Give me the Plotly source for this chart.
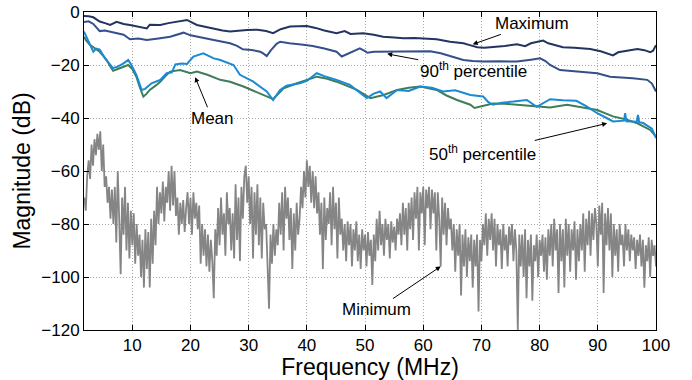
import numpy as np
import plotly.graph_objects as go

# ---------------- data ----------------
max_f = [1.7, 2.5, 3.3, 4.4, 5.3, 6.2, 7.3, 8.5, 9.6, 11.0, 12.5, 13.0, 14.8, 16.2, 17.6, 19.4,
         21.1, 22.5, 24.0, 25.5, 26.8, 28.3, 29.7, 31.5, 33.0, 34.2, 35.5, 37.1, 38.5, 40.0,
         41.5, 43.0, 45.1, 46.5, 47.5, 49.7, 51.5, 53.1, 55.0, 56.6, 58.5, 60.5, 62.3, 64.6,
         66.9, 68.0, 69.3, 70.5, 72.0, 74.0, 76.1, 77.5, 78.5, 80.0, 80.6, 81.5, 82.5, 84.0,
         86.0, 88.7, 90.5, 92.0, 92.6, 93.5, 95.0, 96.8, 98.0, 99.0, 99.5, 99.8, 100.0]
max_db = [-1.5, -1.6, -2.0, -3.6, -4.2, -4.9, -3.7, -4.5, -4.9, -5.5, -6.2, -4.8, -4.9, -4.2, -3.6, -3.0,
          -4.9, -5.6, -6.5, -7.0, -7.4, -7.0, -6.8, -6.7, -7.2, -8.0, -6.5, -5.5, -5.3, -5.3,
          -6.0, -7.0, -8.0, -7.2, -8.3, -8.0, -8.6, -9.3, -9.6, -9.9, -9.8, -10.0, -10.3, -11.2,
          -11.8, -12.5, -13.3, -13.5, -13.3, -12.8, -12.2, -12.9, -11.8, -11.0, -10.8, -11.8, -12.5, -13.3,
          -13.5, -14.0, -14.8, -16.0, -16.4, -15.2, -14.6, -14.0, -14.4, -15.2, -14.6, -13.0, -12.5]

p90_f = [1.7, 2.5, 3.3, 4.4, 5.3, 6.2, 7.3, 8.5, 9.6, 11.0, 12.5, 13.5, 14.5, 16.5, 18.0, 18.8,
         20.0, 21.1, 22.5, 24.0, 25.5, 26.8, 28.0, 29.0, 30.5, 32.0, 32.5, 33.1, 33.8, 34.8,
         35.4, 37.0, 39.4, 41.0, 43.0, 45.1, 46.0, 47.0, 48.3, 49.1, 50.0, 50.4, 51.5, 53.1,
         55.5, 58.9, 61.2, 63.0, 65.0, 66.9, 68.5, 70.3, 73.0, 76.1, 78.5, 80.1, 81.0, 81.8,
         83.5, 86.0, 88.0, 89.9, 92.1, 94.0, 96.0, 98.5, 99.3, 100.0]
p90_db = [-3.8, -3.5, -4.5, -7.2, -7.0, -7.4, -8.0, -8.6, -10.3, -10.0, -10.6, -10.4, -10.0, -9.3, -8.2, -7.8,
          -8.8, -9.3, -10.2, -10.6, -11.2, -11.8, -12.8, -14.1, -14.3, -15.0, -15.6, -16.6, -14.5, -12.0,
          -11.2, -11.8, -12.4, -12.8, -13.8, -15.0, -16.8, -15.8, -14.6, -13.7, -14.8, -15.4, -15.0, -15.0,
          -15.0, -15.0, -14.8, -15.6, -16.8, -18.1, -18.5, -18.7, -18.6, -18.7, -18.0, -17.5, -18.5, -20.0,
          -21.9, -22.3, -22.6, -23.1, -24.4, -24.6, -25.0, -25.6, -27.0, -30.0]

mean_f = [1.7, 2.0, 2.7, 3.5, 4.4, 5.0, 5.6, 6.2, 6.7, 7.5, 8.5, 9.3, 10.0, 10.7, 11.3, 11.9,
          12.4, 13.0, 14.0, 14.8, 15.7, 16.5, 18.2, 20.0, 21.1, 22.9, 25.1, 26.8, 29.1, 32.0,
          34.2, 34.8, 36.0, 38.3, 40.0, 41.7, 43.5, 45.1, 48.6, 50.9, 53.2, 55.5, 57.5, 59.5,
          62.3, 64.0, 65.8, 68.1, 68.8, 70.5, 72.0, 74.0, 76.1, 79.0, 81.8, 84.7, 87.0, 89.9,
          91.0, 92.6, 94.7, 96.8, 99.0, 100.0]
mean_db = [-9.3, -10.5, -12.4, -13.5, -15.0, -16.5, -18.1, -20.5, -22.2, -21.5, -20.6, -20.0, -21.5, -24.4, -28.5, -31.9,
           -31.0, -29.4, -27.8, -26.3, -24.2, -22.5, -21.9, -23.1, -22.5, -23.7, -25.6, -26.3, -28.1, -30.7,
           -32.9, -31.5, -28.8, -26.9, -25.5, -24.4, -25.2, -26.3, -29.4, -32.5, -31.3, -29.4, -28.6, -28.1,
           -29.4, -31.5, -33.2, -35.0, -36.2, -35.3, -34.5, -34.6, -34.9, -35.5, -36.0, -35.0, -36.0, -37.0,
           -38.0, -39.4, -40.5, -42.0, -44.5, -47.0]

p50_f = [1.7, 2.4, 3.3, 3.8, 4.4, 5.3, 6.7, 7.5, 8.5, 9.3, 9.8, 10.7, 11.6, 12.2, 13.3, 14.8,
         15.9, 16.8, 17.4, 18.5, 19.4, 20.5, 22.2, 24.0, 25.0, 27.4, 28.5, 30.8, 33.1, 34.2,
         35.4, 36.5, 38.8, 40.0, 41.7, 43.0, 45.1, 47.4, 50.3, 51.5, 52.6, 53.7, 55.5, 57.5,
         59.5, 61.5, 63.4, 65.5, 68.1, 70.3, 71.2, 72.0, 73.5, 75.5, 77.8, 79.5, 81.8, 84.0,
         86.3, 88.0, 89.9, 91.5, 92.6, 94.5, 94.7, 94.9, 96.7, 96.9, 97.1, 97.8, 99.3, 100.0]
p50_db = [-7.4, -10.6, -15.0, -13.8, -14.2, -17.5, -21.2, -20.6, -19.4, -18.1, -19.8, -23.7, -29.4, -29.0, -26.9, -25.6,
          -23.1, -22.8, -19.8, -19.4, -19.6, -16.8, -15.6, -17.5, -18.0, -20.0, -23.7, -26.3, -30.0, -33.2,
          -29.4, -27.8, -26.9, -26.0, -23.1, -24.2, -25.6, -27.5, -32.5, -30.8, -30.0, -32.5, -29.4, -29.8,
          -28.1, -28.6, -30.0, -29.5, -31.3, -31.9, -34.0, -35.0, -34.2, -33.8, -33.2, -35.8, -32.9, -33.3,
          -33.5, -35.5, -38.2, -40.0, -41.3, -41.0, -38.2, -41.2, -41.4, -38.8, -41.6, -41.9, -44.0, -47.6]

# Minimum: sampled every 0.25 MHz from 1.75 to 100 MHz
min_f = np.arange(1.75, 100.001, 0.25)
min_db = [
    -70, -75, -62, -56, -63, -50, -58, -48, -54, -46, -52, -45, -60, -50, -66, -62, -72, -66, -78, -67,
    -80, -66, -87, -60, -78, -99, -70, -84, -66, -90, -72, -93, -75, -88, -76, -95, -80, -92, -84, -100,
    -86, -104, -82, -97, -83, -104, -78, -95, -75, -88, -66, -80, -68, -76, -64, -79, -66, -72, -60, -75,
    -58, -73, -60, -77, -70, -84, -72, -80, -71, -83, -74, -68, -80, -70, -84, -68, -78, -72, -82, -73,
    -95, -80, -92, -82, -96, -84, -98, -86, -94, -108, -82, -92, -74, -88, -70, -84, -76, -92, -68, -80,
    -74, -90, -76, -93, -65, -86, -70, -94, -66, -78, -62, -58, -72, -62, -80, -66, -93, -68, -84, -65,
    -88, -70, -93, -72, -82, -80, -96, -112, -84, -95, -80, -92, -82, -88, -72, -84, -68, -90, -66, -78,
    -70, -86, -74, -97, -76, -90, -72, -84, -78, -66, -74, -60, -70, -56, -66, -58, -72, -60, -74, -62,
    -76, -68, -84, -72, -97, -70, -86, -74, -80, -68, -88, -66, -82, -72, -93, -70, -84, -78, -90, -80,
    -94, -79, -88, -80, -96, -82, -90, -79, -94, -84, -97, -82, -90, -84, -96, -83, -92, -86, -103, -84,
    -94, -78, -90, -75, -88, -80, -92, -78, -86, -80, -93, -79, -87, -81, -90, -78, -84, -76, -88, -72,
    -84, -74, -90, -72, -82, -70, -86, -68, -78, -66, -90, -68, -76, -66, -88, -67, -74, -66, -82, -67,
    -76, -68, -90, -68, -78, -96, -70, -84, -72, -88, -74, -82, -78, -90, -80, -98, -82, -92, -80, -107,
    -84, -96, -82, -100, -85, -94, -84, -104, -86, -96, -84, -113, -86, -94, -80, -88, -76, -92, -78, -86,
    -76, -90, -78, -96, -80, -88, -82, -97, -80, -90, -84, -96, -81, -88, -80, -94, -82, -90, -120, -84,
    -96, -84, -100, -82, -108, -86, -96, -84, -109, -88, -94, -84, -100, -86, -92, -84, -98, -85, -101, -82,
    -92, -80, -96, -78, -90, -82, -106, -80, -94, -82, -104, -78, -92, -80, -98, -82, -90, -79, -101, -82,
    -94, -80, -90, -76, -98, -78, -88, -75, -92, -76, -86, -74, -80, -96, -73, -84, -72, -106, -76, -88,
    -74, -90, -76, -100, -80, -92, -82, -98, -80, -88, -84, -96, -80, -90, -82, -94, -84, -90, -85, -97,
    -86, -92, -84, -96, -86, -104, -88, -94, -85, -100, -86, -92, -88, -96,
]

x_ticks = [10, 20, 30, 40, 50, 60, 70, 80, 90, 100]
y_ticks = [-120, -100, -80, -60, -40, -20, 0]

# ---------------- figure ----------------
FONT = "Liberation Sans, Arial, Helvetica, sans-serif"
fig = go.Figure()
fig.add_trace(go.Scatter(x=min_f, y=min_db, mode="lines",
                         line=dict(color="#858585", width=1.8), name="Minimum"))
fig.add_trace(go.Scatter(x=max_f, y=max_db, mode="lines",
                         line=dict(color="#233461", width=2), name="Maximum"))
fig.add_trace(go.Scatter(x=p90_f, y=p90_db, mode="lines",
                         line=dict(color="#34508a", width=2), name="90th percentile"))
fig.add_trace(go.Scatter(x=mean_f, y=mean_db, mode="lines",
                         line=dict(color="#3f7d58", width=2), name="Mean"))
fig.add_trace(go.Scatter(x=p50_f, y=p50_db, mode="lines",
                         line=dict(color="#1a8ad4", width=2), name="50th percentile"))

ann = dict(showarrow=True, arrowhead=2, arrowsize=1, arrowwidth=1, arrowcolor="black",
           axref="x", ayref="y", xref="x", yref="y",
           font=dict(family=FONT, size=17, color="black"))
fig.add_annotation(x=68.5, y=-12.2, ax=78.7, ay=-4.3, text="Maximum", **ann)
fig.add_annotation(x=53.8, y=-15.8, ax=68.6, ay=-21.9, text="90<sup>th</sup> percentile", **ann)
fig.add_annotation(x=20.8, y=-24.6, ax=23.7, ay=-40.1, text="Mean", **ann)
fig.add_annotation(x=91.6, y=-42.0, ax=70.1, ay=-53.2, text="50<sup>th</sup> percentile", **ann)
fig.add_annotation(x=63.0, y=-96.0, ax=52.0, ay=-112.3, text="Minimum", **ann)

axis_common = dict(showline=True, linecolor="black", linewidth=1, mirror="ticks",
                   ticks="inside", ticklen=5, tickcolor="black", tickwidth=1,
                   showgrid=True, gridcolor="#a8a8a8", griddash="1px,2px", gridwidth=1,
                   zeroline=False, automargin=False,
                   tickfont=dict(family=FONT, size=17, color="black"))
fig.update_xaxes(range=[1.7, 100], tickvals=x_ticks,
                 title=dict(text="Frequency (MHz)", font=dict(family=FONT, size=23, color="black"),
                            standoff=4),
                 **axis_common)
fig.update_yaxes(range=[-120, 0], tickvals=y_ticks,
                 title=dict(text="Magnitude (dB)", font=dict(family=FONT, size=23, color="black"),
                            standoff=4),
                 **axis_common)
fig.update_layout(width=692, height=380, margin=dict(l=84, r=36, t=12, b=50, autoexpand=False),
                  paper_bgcolor="white", plot_bgcolor="white", showlegend=False)

fig.write_html("out.html")
